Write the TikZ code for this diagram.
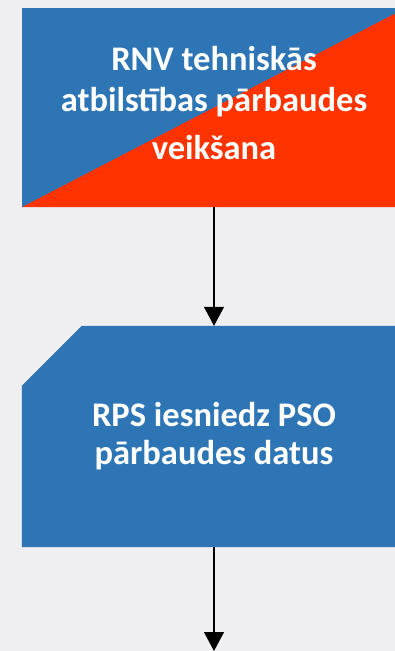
\documentclass[tikz,border=0pt]{standalone}
\usepackage{fontspec}
\setmainfont{Carlito}
\usetikzlibrary{arrows.meta,calc}
\definecolor{bgcol}{HTML}{EFEEF1}
\definecolor{boxblue}{HTML}{2E75B6}
\definecolor{boxred}{HTML}{FF3300}
\tikzset{blk/.style={rectangle,inner sep=0pt,minimum width=384pt},txt/.style={text=white,font=\fontsize{34.5}{41}\selectfont\bfseries,anchor=base,inner sep=0pt},arr/.style={-{Triangle[length=19pt,width=20pt]},line width=1.2pt}}

\begin{document}
\begin{tikzpicture}[x=1pt,y=-1pt]
  \fill[bgcol] (0,0) rectangle (395,651);
  \useasboundingbox (0,0) rectangle (395,651);
  \clip (0,0) rectangle (395,651);
  \node[blk,fill=boxblue,minimum height=199pt] (b1) at (214,107.5) {};
  \fill[boxred] (b1.south west) -- (b1.north east) -- (b1.south east) -- cycle;
  \node[txt] (t1) at (214,70) {RNV tehniskās};
  \node[txt] (t2) at (214,111) {atbilstības pārbaudes};
  \node[txt] (t3) at (214,159) {veikšana};
  \node[blk,minimum height=221pt] (b2) at (214,436.5) {};
  \fill[boxblue] ($(b2.north west)+(60,0)$) -- (b2.north east) -- (b2.south east)
    -- (b2.south west) -- ($(b2.north west)+(0,60)$) -- cycle;
  \node[txt] (t4) at (214,426.5) {RPS iesniedz PSO};
  \node[txt] (t5) at (214,464) {pārbaudes datus};
  \coordinate (end) at (214,651);
  \draw[arr] (b1.south) -- (b2.north);
  \draw[arr] (b2.south) -- (end);
\end{tikzpicture}
\end{document}
